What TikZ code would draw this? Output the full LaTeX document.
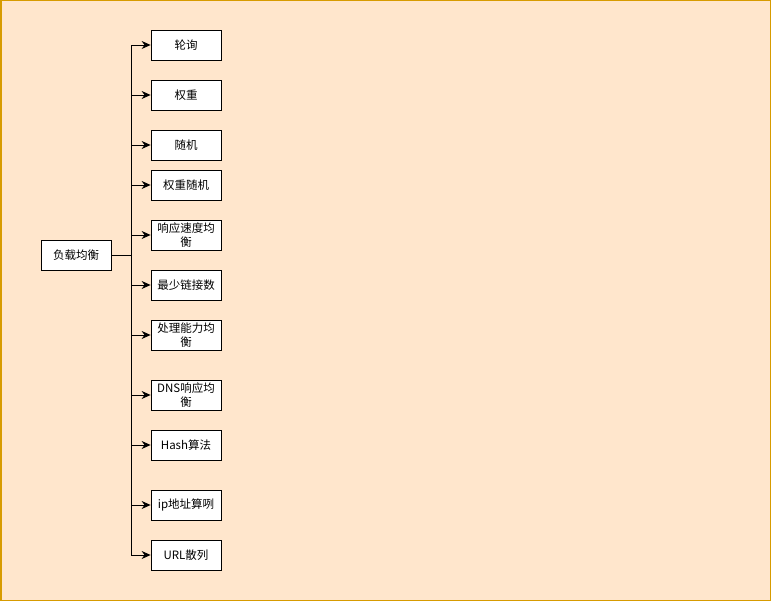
\documentclass[tikz,border=0pt]{standalone}
\usepackage{fontspec}
\newfontfamily\cjk{Noto Sans CJK SC}
\usetikzlibrary{arrows.meta}
\definecolor{peach}{HTML}{FFE6CC}
\definecolor{amber}{HTML}{D79B00}

\begin{document}
\begin{tikzpicture}[x=1pt,y=-1pt,line width=0.8pt,
  box/.style={rectangle,draw,fill=white,minimum width=70pt,minimum height=30pt,inner sep=1pt,align=center,font=\cjk\fontsize{11.5}{14}\selectfont},
  branch/.style={-{Stealth[length=9pt,width=8pt,inset=3pt]}}]
  \useasboundingbox (0,0) rectangle (771,601);
  \draw[draw=amber,fill=peach,line width=1.5pt] (0.75,0.75) rectangle (770.25,600.25);

  \node[box] (root) at (76,255) {负载均衡};
  \coordinate (trunk) at (131,255);

  \node[box] (n1) at (186,45) {轮询};
  \node[box] (n2) at (186,95) {权重};
  \node[box] (n3) at (186,145) {随机};
  \node[box] (n4) at (186,185) {权重随机};
  \node[box] (n5) at (186,235) {响应速度均\\衡};
  \node[box] (n6) at (186,285) {最少链接数};
  \node[box] (n7) at (186,335) {处理能力均\\衡};
  \node[box] (n8) at (186,395) {DNS响应均\\衡};
  \node[box] (n9) at (186,445) {Hash算法};
  \node[box] (n10) at (186,505) {ip地址算咧};
  \node[box] (n11) at (186,555) {URL散列};

  \draw (root.east) -- (trunk);
  \foreach \n in {n1,n2,n3,n4,n5,n6,n7,n8,n9,n10,n11}
    \draw[branch] (trunk) |- (\n.west);
\end{tikzpicture}
\end{document}
